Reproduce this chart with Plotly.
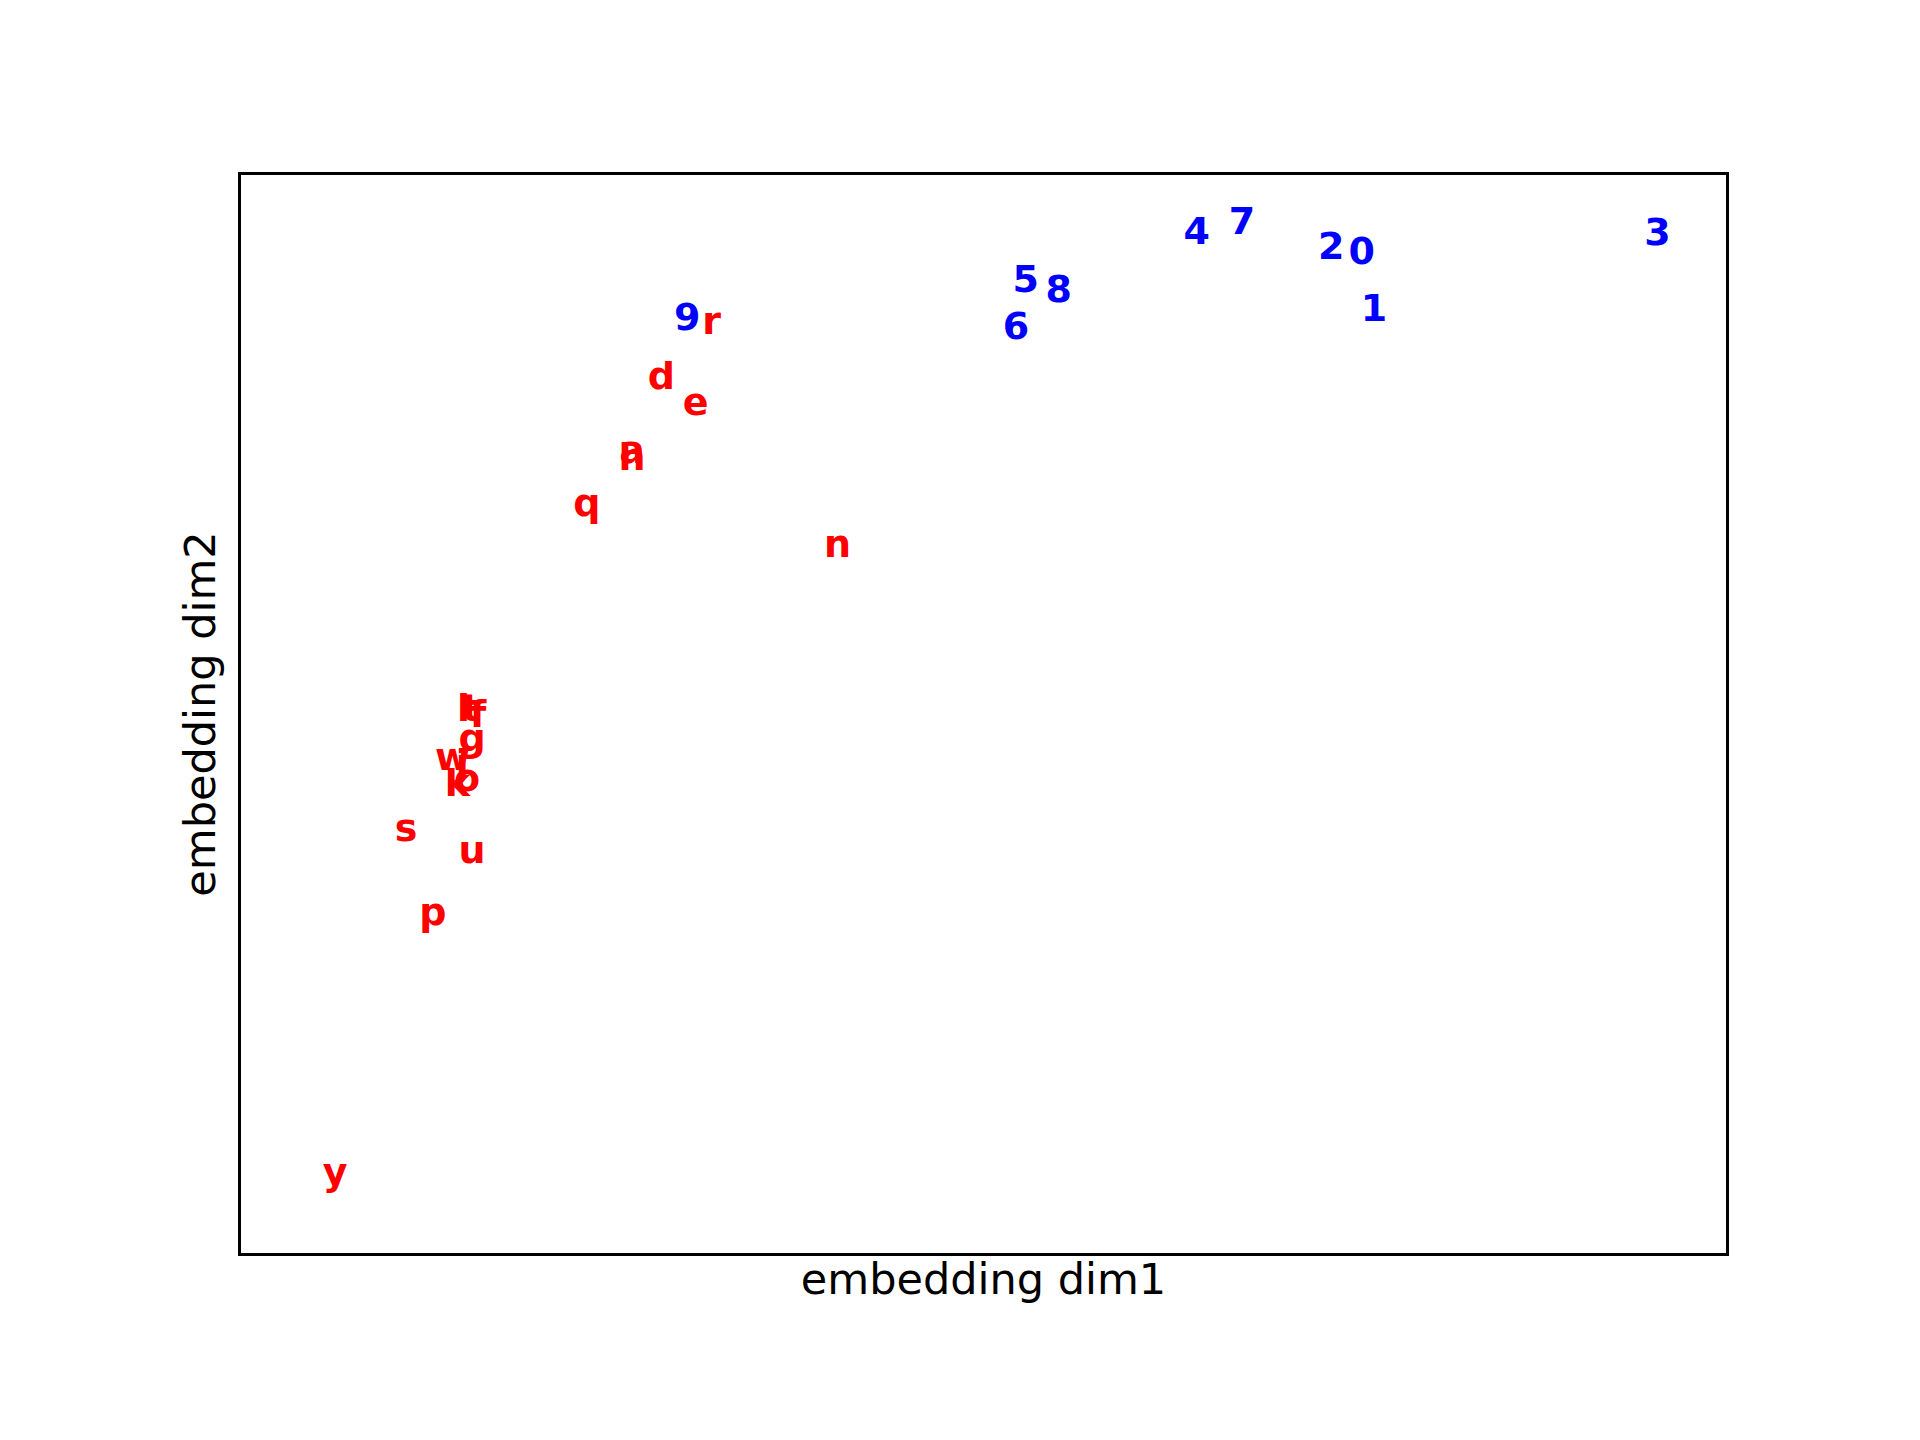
import plotly.graph_objects as go

# 2-d embedding of characters (digits in blue, letters in red)
digit_labels = ["9", "4", "7", "2", "0", "3", "5", "8", "6", "1"]
digit_x = [365, 782, 819, 892, 917, 1159, 642, 669, 634, 927]
digit_y = [784, 856, 864, 843, 839, 855, 816, 807, 776, 791]

letter_labels = ["r", "d", "e", "a", "h", "q", "n", "l", "t", "f", "g",
                 "w", "j", "k", "o", "s", "u", "p", "y"]
letter_x = [385, 344, 372, 320, 320, 283, 488, 182, 188, 194, 189,
            173, 181, 177, 185, 135, 189, 157, 77]
letter_y = [780, 734, 712, 672, 666, 627, 593, 455, 455, 450, 430,
            414, 409, 392, 396, 354, 336, 284, 65]

fig = go.Figure()
fig.add_trace(go.Scatter(x=digit_x, y=digit_y, mode="text", text=digit_labels,
                         textfont=dict(color="#0000ff", size=38, family="DejaVu Sans"),
                         texttemplate="<b>%{text}</b>"))
fig.add_trace(go.Scatter(x=letter_x, y=letter_y, mode="text", text=letter_labels,
                         textfont=dict(color="#ff0000", size=38, family="DejaVu Sans"),
                         texttemplate="<b>%{text}</b>"))

axis = dict(showgrid=False, zeroline=False, showticklabels=False, ticks="",
            showline=True, mirror=True, linecolor="black", linewidth=2.5)
fig.update_xaxes(range=[0, 1215], title=dict(text="embedding dim1", standoff=10), **axis)
fig.update_yaxes(range=[0, 906], title=dict(text="embedding dim2", standoff=10), **axis)
fig.update_layout(
    width=1920, height=1440, showlegend=False,
    plot_bgcolor="white", paper_bgcolor="white",
    font=dict(family="DejaVu Sans", size=36, color="black"),
    margin=dict(l=233, r=202, t=167, b=195),
)
fig.write_html("out.html")
